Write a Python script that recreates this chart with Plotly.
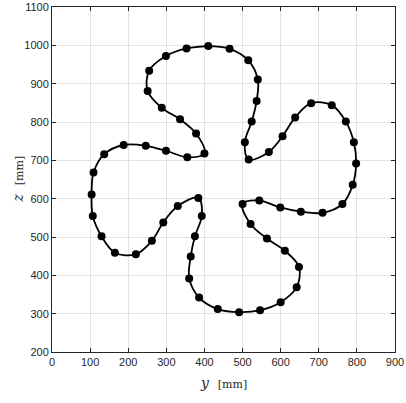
import plotly.graph_objects as go

y_vals = [410, 353, 299, 255, 251, 288, 336, 378, 400, 355, 299, 246, 188, 137, 109,
          104, 107, 130, 165, 220, 262, 292, 330, 384, 393, 375, 364, 360, 386, 435,
          491, 546, 600, 642, 648, 611, 564, 521, 500, 544, 599, 653, 710, 762, 789,
          798, 792, 771, 734, 680, 638, 605, 569, 516, 506, 524, 537, 540, 515, 466]
z_vals = [998, 992, 972, 934, 881, 837, 807, 770, 718, 708, 725, 738, 740, 716, 668,
          611, 555, 502, 459, 455, 490, 538, 581, 602, 555, 502, 449, 392, 342, 312,
          304, 309, 330, 369, 422, 464, 496, 534, 586, 595, 577, 566, 563, 586, 636,
          692, 747, 801, 844, 849, 812, 763, 722, 702, 747, 801, 855, 911, 961, 991]

x_ticks = [0, 100, 200, 300, 400, 500, 600, 700, 800, 900]
z_ticks = [200, 300, 400, 500, 600, 700, 800, 900, 1000, 1100]

# closed curve
yc = y_vals + y_vals[:2]
zc = z_vals + z_vals[:2]

fig = go.Figure()
fig.add_trace(go.Scatter(
    x=yc, y=zc, mode="lines",
    line=dict(color="black", width=1.8, shape="spline", smoothing=1.0),
    hoverinfo="skip", showlegend=False))
fig.add_trace(go.Scatter(
    x=y_vals, y=z_vals, mode="markers",
    marker=dict(color="black", size=8),
    showlegend=False))

axis_common = dict(
    showgrid=True, gridcolor="#e3e3e3", gridwidth=1,
    showline=True, linecolor="#262626", linewidth=1, mirror="ticks",
    ticks="inside", ticklen=4, tickcolor="#262626",
    tickfont=dict(family="Liberation Sans, Arial", size=11, color="#262626"),
    zeroline=False, automargin=False,
)

title_font = dict(family="DejaVu Serif, Liberation Serif", size=14, color="#262626")

fig.update_layout(
    width=406, height=403,
    margin=dict(l=52, r=11, t=7, b=51),
    paper_bgcolor="white", plot_bgcolor="white",
    xaxis=dict(range=[0, 900], tickvals=x_ticks, **axis_common),
    yaxis=dict(range=[200, 1100], tickvals=z_ticks, **axis_common),
    annotations=[
        dict(text="<i>y</i>  <span style='font-size:11px'>[mm]</span>",
             xref="paper", yref="paper", x=0.5, y=0, yshift=-31,
             xanchor="center", yanchor="middle", showarrow=False, font=title_font),
        dict(text="<i>z</i>  <span style='font-size:11px'>[mm]</span>",
             xref="paper", yref="paper", x=0, y=0.5, xshift=-35,
             xanchor="center", yanchor="middle", showarrow=False, textangle=-90,
             font=title_font),
    ],
)

fig.write_html("out.html", config={"displayModeBar": False},
               post_script="document.body.style.margin='0';")
